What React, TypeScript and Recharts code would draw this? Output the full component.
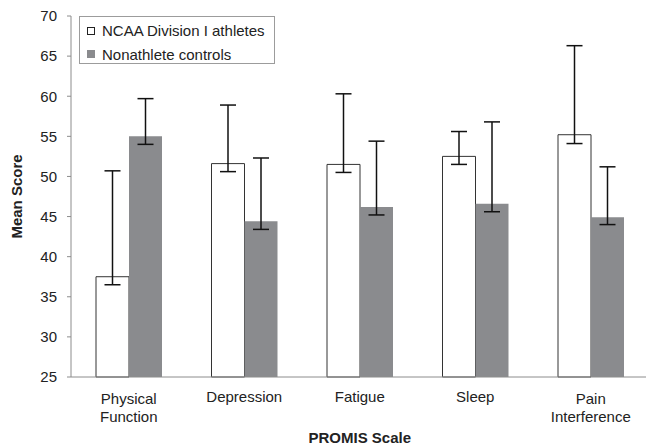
import React from 'react';
import { BarChart, Bar, XAxis, YAxis, ErrorBar, Legend } from 'recharts';

// PROMIS scales (line breaks as in the figure)
const categories = ['Physical\nFunction', 'Depression', 'Fatigue', 'Sleep', 'Pain\nInterference'];
const seriesNames = ['NCAA Division I athletes', 'Nonathlete controls'];

// mean scores
const athletes = [37.5, 51.6, 51.5, 52.5, 55.2];
const athletesLower = [36.5, 50.6, 50.5, 51.5, 54.1];
const athletesUpper = [50.7, 58.9, 60.3, 55.6, 66.3];

const controls = [55.0, 44.4, 46.2, 46.6, 44.9];
const controlsLower = [54.0, 43.4, 45.2, 45.6, 44.0];
const controlsUpper = [59.7, 52.3, 54.4, 56.8, 51.2];

const yTicks = [25, 30, 35, 40, 45, 50, 55, 60, 65, 70];
const boundaryTicks = [0, 1, 2, 3, 4, 5];

const FONT = '"Liberation Sans", Arial, sans-serif';
const TEXT = '#222';
const AXIS = '#8c8c8c';
const GRAY = '#8a8b8e';

const data = categories.map((name, i) => ({
    name,
    athletes: athletes[i],
    athletesErr: [+(athletes[i] - athletesLower[i]).toFixed(2), +(athletesUpper[i] - athletes[i]).toFixed(2)],
    controls: controls[i],
    controlsErr: [+(controls[i] - controlsLower[i]).toFixed(2), +(controlsUpper[i] - controls[i]).toFixed(2)],
}));

const CategoryTick = (props: any) => {
    const { x, y, payload } = props;
    const lines = String(payload.value).split('\n');
    const first = lines.length > 1 ? 27 : 25;
    return (
        <text x={x} y={y} textAnchor="middle" fill={TEXT} fontSize={15} fontFamily={FONT}>
            {lines.map((l, i) => (
                <tspan key={i} x={x} dy={i === 0 ? first : 17.5}>{l}</tspan>
            ))}
        </text>
    );
};

const renderLegend = () => (
    <div
        style={{
            width: 196,
            height: 48,
            boxSizing: 'border-box',
            border: '1px solid #9c9c9c',
            background: '#fff',
            fontFamily: FONT,
            fontSize: 15,
            color: TEXT,
            paddingLeft: 7,
            paddingTop: 2,
        }}
    >
        {seriesNames.map((n, i) => (
            <div key={n} style={{ display: 'flex', alignItems: 'center', height: 23.5 }}>
                <span
                    style={{
                        display: 'inline-block',
                        width: 8,
                        height: 8,
                        boxSizing: 'border-box',
                        background: i === 0 ? '#fff' : GRAY,
                        border: i === 0 ? '1px solid #222' : 'none',
                        marginRight: 7,
                    }}
                />
                <span>{n}</span>
            </div>
        ))}
    </div>
);

const App: React.FC = () => {
    return (
        <div style={{ width: 646, height: 448, overflow: 'hidden', position: 'relative', background: '#fff' }}>
            <style>{`body { margin: 0; }`}</style>
            <BarChart
                width={650}
                height={448}
                data={data}
                margin={{ top: 16, right: 1.5, left: 0, bottom: 0 }}
                barSize={33}
                barGap={0}
            >
                {/* boundary tick marks between categories */}
                <XAxis
                    xAxisId="bounds"
                    type="number"
                    domain={[0, 5]}
                    ticks={boundaryTicks}
                    allowDataOverflow
                    height={0}
                    axisLine={false}
                    tickLine={{ stroke: AXIS }}
                    tickSize={5}
                    tickFormatter={() => ''}
                />
                <XAxis
                    xAxisId="cat"
                    dataKey="name"
                    height={71}
                    axisLine={{ stroke: AXIS }}
                    tickLine={false}
                    tickSize={0}
                    tickMargin={0}
                    interval={0}
                    tick={<CategoryTick />}
                    label={{
                        value: 'PROMIS Scale',
                        position: 'insideBottom',
                        offset: 5,
                        fill: TEXT,
                        fontSize: 15,
                        fontWeight: 'bold',
                        fontFamily: FONT,
                    }}
                />
                <YAxis
                    width={71}
                    domain={[25, 70]}
                    ticks={yTicks}
                    interval={0}
                    axisLine={{ stroke: AXIS }}
                    tickLine={{ stroke: AXIS }}
                    tickSize={4}
                    tickMargin={10}
                    tick={{ fill: TEXT, fontSize: 15, fontFamily: FONT }}
                    label={{
                        content: (p: any) => {
                            const vb = p.viewBox || { y: 16, height: 361 };
                            const cy = vb.y + vb.height / 2;
                            return (
                                <text
                                    transform={`translate(16,${cy}) rotate(-90)`}
                                    textAnchor="middle"
                                    dominantBaseline="central"
                                    fill={TEXT}
                                    fontSize={15}
                                    fontWeight="bold"
                                    fontFamily={FONT}
                                >
                                    Mean Score
                                </text>
                            );
                        },
                    }}
                />
                <Legend
                    layout="horizontal"
                    verticalAlign="middle"
                    align="center"
                    content={renderLegend}
                    wrapperStyle={{ top: 16, left: 79, width: 196, height: 48 }}
                />
                <Bar
                    xAxisId="cat"
                    dataKey="athletes"
                    name={seriesNames[0]}
                    fill="#fff"
                    stroke="#333"
                    strokeWidth={1}
                    isAnimationActive={false}
                >
                    <ErrorBar dataKey="athletesErr" width={8} stroke="#111" strokeWidth={1.5} />
                </Bar>
                <Bar
                    xAxisId="cat"
                    dataKey="controls"
                    name={seriesNames[1]}
                    fill={GRAY}
                    isAnimationActive={false}
                >
                    <ErrorBar dataKey="controlsErr" width={8} stroke="#111" strokeWidth={1.5} />
                </Bar>
            </BarChart>
        </div>
    );
};

export default App;
